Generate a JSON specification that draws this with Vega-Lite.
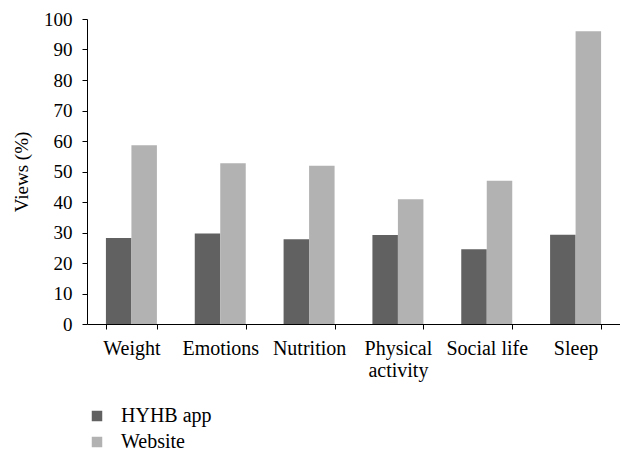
{
  "$schema": "https://vega.github.io/schema/vega-lite/v6.json",
  "width": 533,
  "height": 305,
  "autosize": {"type": "none"},
  "padding": {"left": 87, "top": 19, "right": 0, "bottom": 130},
  "background": "white",
  "config": {
    "font": "Liberation Serif",
    "view": {"stroke": null},
    "axis": {"labelFont": "Liberation Serif", "titleFont": "Liberation Serif", "labelColor": "black", "titleColor": "black", "domainColor": "black", "tickColor": "black", "grid": false},
    "legend": {"labelFont": "Liberation Serif", "labelColor": "black"}
  },
  "data": {
    "values": [
      {"topic": "Weight", "source": "HYHB app", "views": 28.2},
      {"topic": "Weight", "source": "Website", "views": 58.6},
      {"topic": "Emotions", "source": "HYHB app", "views": 29.7},
      {"topic": "Emotions", "source": "Website", "views": 52.7},
      {"topic": "Nutrition", "source": "HYHB app", "views": 27.8},
      {"topic": "Nutrition", "source": "Website", "views": 51.9},
      {"topic": "Physical activity", "source": "HYHB app", "views": 29.2},
      {"topic": "Physical activity", "source": "Website", "views": 40.9},
      {"topic": "Social life", "source": "HYHB app", "views": 24.5},
      {"topic": "Social life", "source": "Website", "views": 47.0},
      {"topic": "Sleep", "source": "HYHB app", "views": 29.3},
      {"topic": "Sleep", "source": "Website", "views": 96.0}
    ]
  },
  "mark": {"type": "bar"},
  "encoding": {
    "x": {
      "field": "topic",
      "type": "nominal",
      "sort": null,
      "scale": {"paddingInner": 0.426, "paddingOuter": 0.213},
      "axis": {
        "title": null,
        "labelAngle": 0,
        "labelFontSize": 20,
        "labelPadding": 9,
        "tickSize": 5,
        "tickBand": "extent",
        "domainWidth": 1,
        "labelLineHeight": 22,
        "labelExpr": "datum.label == 'Physical activity' ? ['Physical', 'activity'] : datum.label"
      }
    },
    "xOffset": {"field": "source", "type": "nominal"},
    "y": {
      "field": "views",
      "type": "quantitative",
      "scale": {"domain": [0, 100]},
      "axis": {
        "title": "Views (%)",
        "titleFontSize": 19,
        "titleFontWeight": "normal",
        "titlePadding": 12,
        "labelFontSize": 19,
        "labelPadding": 10,
        "tickSize": 5,
        "values": [0, 10, 20, 30, 40, 50, 60, 70, 80, 90, 100]
      }
    },
    "color": {
      "field": "source",
      "type": "nominal",
      "scale": {"domain": ["HYHB app", "Website"], "range": ["#616161", "#b2b2b2"]},
      "legend": {
        "title": null,
        "orient": "none",
        "legendX": 0,
        "legendY": 387,
        "direction": "vertical",
        "symbolType": "square",
        "symbolSize": 110,
        "symbolStrokeWidth": 0,
        "labelFontSize": 20,
        "labelOffset": 14,
        "rowPadding": 6,
        "padding": 0
      }
    }
  }
}
